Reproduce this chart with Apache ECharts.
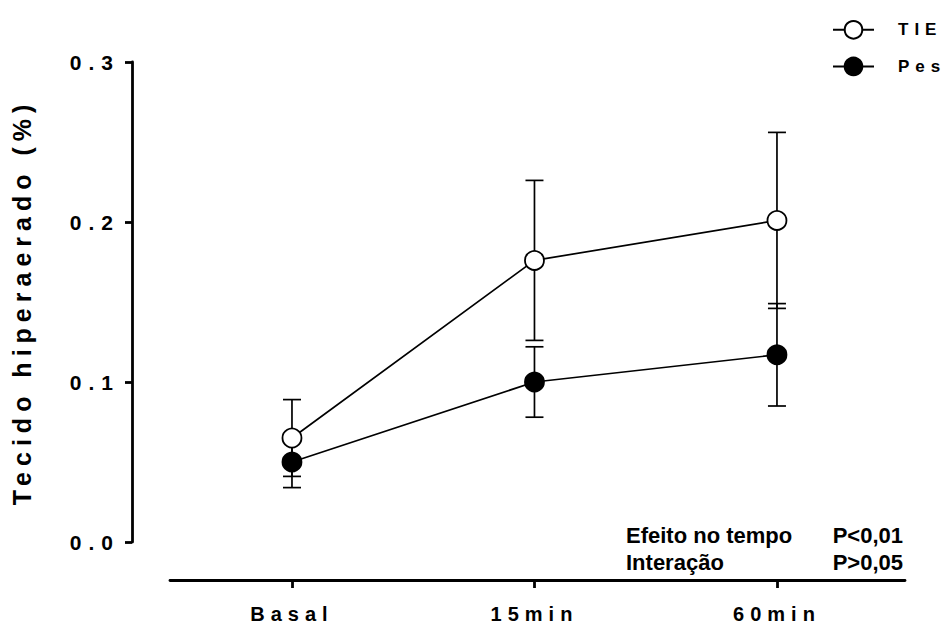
<!DOCTYPE html>
<html>
<head>
<meta charset="utf-8">
<script src="https://cdn.jsdelivr.net/npm/echarts@6/dist/echarts.min.js"></script>
<style>html,body{margin:0;padding:0;background:#fff}#c{width:945px;height:628px}</style>
</head>
<body>
<div id="c"></div>
<script>
var categories = ['Basal', '15min', '60min'];
var seriesNames = ['TIE', 'Pes'];
var tieMean = [0.065, 0.176, 0.201];
var tieErr = [0.024, 0.050, 0.055];
var pesMean = [0.050, 0.100, 0.117];
var pesErr = [0.016, 0.022, 0.032];
var yTicks = [0.0, 0.1, 0.2, 0.3];
var yTitle = 'Tecido hiperaerado (%)';
var notes = [['Efeito no tempo', 'P<0,01'], ['Interação', 'P>0,05']];

var FONT = 'Liberation Sans, Arial, sans-serif';
var chart = echarts.init(document.getElementById('c'), null, {renderer: 'svg'});

function pts(mean) { return mean.map(function (m, i) { return [i, m]; }); }
function errData(mean, err) { return mean.map(function (m, i) { return [i, m - err[i], m + err[i]]; }); }
function errRender(params, api) {
  var x = api.value(0);
  var lo = api.coord([x, api.value(1)]);
  var hi = api.coord([x, api.value(2)]);
  var w = 9;
  var st = {stroke: '#000', lineWidth: 1.7};
  return {type: 'group', children: [
    {type: 'line', shape: {x1: lo[0], y1: lo[1], x2: hi[0], y2: hi[1]}, style: st},
    {type: 'line', shape: {x1: lo[0] - w, y1: lo[1], x2: lo[0] + w, y2: lo[1]}, style: st},
    {type: 'line', shape: {x1: hi[0] - w, y1: hi[1], x2: hi[0] + w, y2: hi[1]}, style: st}
  ]};
}

var graphics = [];
notes.forEach(function (n, i) {
  graphics.push({type: 'text', left: 626, top: 524 + i * 27, style: {text: n[0], font: 'bold 22px ' + FONT, fill: '#000'}});
  graphics.push({type: 'text', right: 42, top: 524 + i * 27, style: {text: n[1], font: 'bold 22px ' + FONT, fill: '#000', textAlign: 'right'}});
});

// letter spacing (px) for the spaced-out texts of the original figure
var spacing = {};
categories.forEach(function (c) { spacing[c] = 6; });
seriesNames.forEach(function (c) { spacing[c] = 6; });
yTicks.forEach(function (v) { spacing[v.toFixed(1)] = 7; });
spacing[yTitle] = 6;

chart.setOption({
  animation: false,
  backgroundColor: '#fff',
  grid: {left: 170, right: 40, top: 62, bottom: 86},
  legend: {
    orient: 'vertical', left: 832, top: 20, padding: 0, itemWidth: 41, itemHeight: 22, itemGap: 17,
    data: seriesNames,
    lineStyle: {width: 2},
    textStyle: {fontFamily: FONT, fontWeight: 'bold', fontSize: 17, color: '#000', padding: [0, 0, 0, 19]}
  },
  xAxis: {
    type: 'value', min: -0.503, max: 2.528, offset: 38,
    axisLine: {onZero: false, lineStyle: {color: '#000', width: 2.8}},
    axisTick: {show: true, length: 8, lineStyle: {color: '#000', width: 2.8}, customValues: [0, 1, 2]},
    axisLabel: {customValues: [0, 1, 2], margin: 24, formatter: function (v) { return categories[Math.round(v)]; },
      fontFamily: FONT, fontWeight: 'bold', fontSize: 20, color: '#000'},
    splitLine: {show: false}
  },
  yAxis: {
    type: 'value', min: 0, max: 0.3, interval: 0.1, offset: 38,
    name: yTitle, nameLocation: 'middle', nameGap: 98, nameRotate: 90,
    nameTextStyle: {fontFamily: FONT, fontWeight: 'bold', fontSize: 25, color: '#000'},
    axisLine: {show: true, onZero: false, lineStyle: {color: '#000', width: 2.8}},
    axisTick: {show: true, length: 7, lineStyle: {color: '#000', width: 2.8}},
    axisLabel: {margin: 12, formatter: function (v) { return v.toFixed(1); },
      fontFamily: FONT, fontWeight: 'bold', fontSize: 21, color: '#000'},
    splitLine: {show: false}
  },
  graphic: graphics,
  series: [
    {type: 'custom', name: 'errTIE', renderItem: errRender, data: errData(tieMean, tieErr), z: 1, silent: true},
    {type: 'custom', name: 'errPes', renderItem: errRender, data: errData(pesMean, pesErr), z: 1, silent: true},
    {type: 'line', name: seriesNames[0], data: pts(tieMean), symbol: 'circle', symbolSize: 19, z: 3,
      lineStyle: {color: '#000', width: 1.7}, itemStyle: {color: '#fff', borderColor: '#000', borderWidth: 1.8}},
    {type: 'line', name: seriesNames[1], data: pts(pesMean), symbol: 'circle', symbolSize: 19, z: 4,
      lineStyle: {color: '#000', width: 1.7}, itemStyle: {color: '#000', borderColor: '#000', borderWidth: 1.8}}
  ]
});

function applySpacing() {
  var texts = document.querySelectorAll('#c svg text');
  for (var i = 0; i < texts.length; i++) {
    var s = spacing[texts[i].textContent];
    if (s != null) texts[i].setAttribute('letter-spacing', s + 'px');
  }
}
applySpacing();
chart.on('finished', applySpacing);
</script>
</body>
</html>
